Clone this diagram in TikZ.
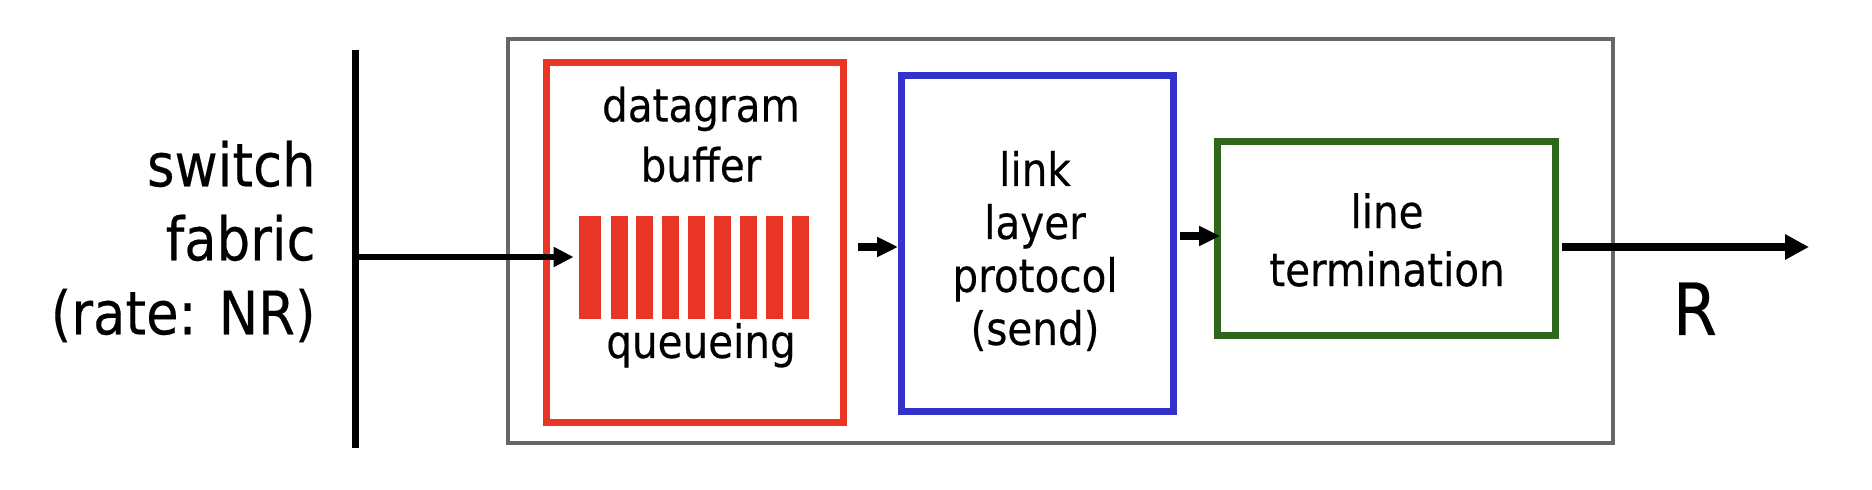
\documentclass[tikz,border=0pt]{standalone}
\usepackage{fontspec}
\setmainfont{DejaVu Sans}[FakeStretch=0.88,FakeBold=0.3]
\usetikzlibrary{arrows.meta,positioning}
\definecolor{PortGray}{HTML}{666666}
\definecolor{QueueRed}{HTML}{E93525}
\definecolor{LinkBlue}{HTML}{3333CC}
\definecolor{LineGreen}{HTML}{2E661C}
\tikzset{>=Triangle,box/.style={draw,inner sep=0pt},bar/.style={fill=QueueRed,inner sep=0pt,
 minimum height=51.5pt},lbl/.style={align=center,inner sep=0pt,font=\fontsize{23}{29}\selectfont},
 feed/.style={line width=3pt,-{Triangle[length=10pt,width=9.5pt]}},
 stub/.style={line width=4.3pt,-{Triangle[length=10.5pt,width=9.5pt]}}}

\begin{document}
\begin{tikzpicture}[x=0.5pt,y=-0.5pt]
\useasboundingbox (0,0) rectangle (1872,490);
\coordinate (ftop) at (355,50);
\coordinate (fbot) at (355,448);
\draw[line width=3.5pt] (ftop)--(fbot);
\node[lbl,align=right,anchor=east,font=\fontsize{30}{37}\selectfont] (fabric) at (316,241.5)
 {switch\\fabric\\(rate: NR)};
\node[box,draw=PortGray,line width=2.2pt,minimum width=552.5pt,minimum height=202pt] (port) at (1060.5,241) {};
\node[box,draw=QueueRed,line width=3.5pt,minimum width=148.5pt,minimum height=180pt] (buf) at (695,242.5) {};
\node[box,draw=LinkBlue,line width=3.5pt,minimum width=136pt,minimum height=168pt] (link) at (1037.5,243.5) {};
\node[box,draw=LineGreen,line width=3.5pt,minimum width=169pt,minimum height=97pt] (line) at (1386.5,238.5) {};
\node[bar,minimum width=11pt] (b1) at (590,267.5) {};
\foreach \i in {2,...,9}
 {\node[bar,minimum width=8.5pt] (b\i) at ({619+25.9*(\i-2)},267.5) {};}
\node[lbl,font=\fontsize{23}{30}\selectfont] (bufname) at (701,134.5) {datagram\\buffer};
\node[lbl,anchor=base] (queue) at (701,358) {queueing};
\node[lbl,font=\fontsize{23}{26.5}\selectfont] (linkname) at (1035,251) {link\\layer\\protocol\\(send)};
\node[lbl] (linename) at (1387,240) {line\\termination};
\node[lbl,anchor=base,font=\fontsize{36}{40}\selectfont] (rate) at (1695,335) {R};
\coordinate (out) at (1809,247);
\draw[feed,shorten >=2.5pt] (ftop |- 0,257)--(b1.west |- 0,257);
\draw[stub,shorten <=5.5pt] (buf.east |- 0,247)--(link.west |- 0,247);
\draw[stub,shorten <=1.5pt,shorten >=-3pt] (link.east |- 0,236)--(line.west |- 0,236);
\draw[line width=4pt,-{Triangle[length=12pt,width=12pt]},shorten <=1.5pt] (line.east |- 0,247)--(out);
\end{tikzpicture}
\end{document}
